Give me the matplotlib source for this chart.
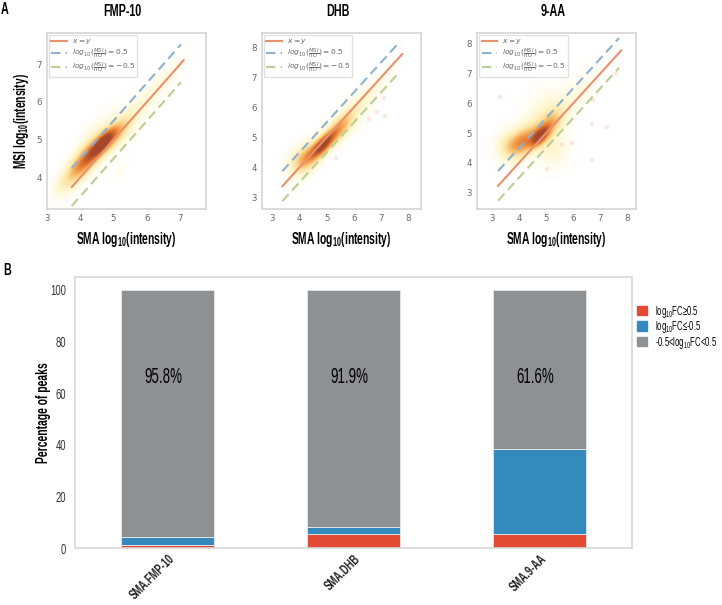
import os
import tempfile
import numpy as np
import matplotlib
matplotlib.use('Agg')
import matplotlib.pyplot as plt
from matplotlib import font_manager as fm
from matplotlib.colors import LinearSegmentedColormap
from matplotlib.font_manager import FontProperties
from matplotlib.patches import Patch
from fontTools.ttLib import TTFont

# Daten
panel_titles = ['FMP-10', 'DHB', '9-AA']
x_ticks = [[3, 4, 5, 6, 7], [3, 4, 5, 6, 7, 8], [3, 4, 5, 6, 7, 8]]
y_ticks = [[4, 5, 6, 7], [3, 4, 5, 6, 7, 8], [3, 4, 5, 6, 7, 8]]
x_ends = [(3.75, 7.1), (3.37, 7.78), (3.22, 7.78)]

# density blobs: x, y, sd along diagonal, sd across, weight
blobs_fmp = [(4.65, 4.9, 0.32, 0.12, 0.75), (4.25, 4.55, 0.45, 0.19, 0.58),
             (5.05, 5.15, 0.42, 0.18, 0.42), (3.9, 4.2, 0.40, 0.20, 0.26),
             (3.5, 3.8, 0.30, 0.18, 0.12), (5.7, 5.8, 0.70, 0.22, 0.11),
             (6.6, 6.65, 0.55, 0.15, 0.08), (5.2, 4.2, 0.22, 0.08, 0.06),
             (4.5, 5.1, 0.50, 0.22, 0.13)]
blobs_dhb = [(4.85, 4.75, 0.36, 0.15, 0.80), (4.35, 4.38, 0.45, 0.24, 0.50),
             (5.4, 5.25, 0.48, 0.21, 0.52), (3.95, 4.2, 0.36, 0.30, 0.17),
             (6.0, 5.9, 0.60, 0.25, 0.15), (6.8, 6.7, 0.55, 0.18, 0.08)]
blobs_9aa = [(4.75, 4.87, 0.30, 0.15, 0.72), (4.15, 4.72, 0.45, 0.28, 0.58),
             (3.6, 4.6, 0.35, 0.30, 0.24), (5.1, 5.25, 0.48, 0.24, 0.42),
             (5.0, 5.7, 0.60, 0.42, 0.15), (5.25, 4.45, 0.42, 0.38, 0.15),
             (6.2, 6.4, 0.65, 0.28, 0.09)]
all_blobs = [blobs_fmp, blobs_dhb, blobs_9aa]

stray_x = [[], [5.35, 6.55, 6.85, 7.15, 7.1], [3.3, 5.05, 5.6, 5.95, 6.7, 6.7, 7.25, 7.6, 6.75]]
stray_y = [[], [4.3, 5.6, 5.85, 5.7, 6.3], [6.2, 3.8, 4.6, 4.65, 5.3, 4.1, 5.2, 7.0, 6.1]]

categories = ['SMA.FMP-10', 'SMA.DHB', 'SMA.9-AA']
up = [1.0, 5.6, 5.5]
down = [3.2, 2.5, 32.9]
same = [95.8, 91.9, 61.6]
same_labels = ['95.8%', '91.9%', '61.6%']

legend_labels = ['log$_{10}$FC≥0.5', 'log$_{10}$FC≤-0.5', '-0.5<log$_{10}$FC<0.5']
bar_colors = ['#E24A33', '#348ABD', '#8E9194']

W, H = 722, 605


# no condensed family is installed, so squeeze Liberation Sans into a temporary one
def schmal_font(style, stretch=0.62):
    src = fm.findfont(FontProperties(family='Liberation Sans', weight=style))
    font = TTFont(src)
    glyf = font['glyf']
    for name in glyf.keys():
        g = glyf[name]
        if g.isComposite():
            for c in g.components:
                c.x = int(c.x * stretch)
        elif g.numberOfContours > 0:
            g.coordinates.scale((stretch, 1))
            g.coordinates.toInt()
            g.program.fromBytecode(b'')
        g.recalcBounds(glyf)
    for name, (adv, lsb) in font['hmtx'].metrics.items():
        font['hmtx'].metrics[name] = (int(adv * stretch), int(lsb * stretch))
    for tag in ['fpgm', 'prep', 'cvt ', 'hdmx', 'VDMX', 'LTSH', 'kern', 'GPOS']:
        if tag in font:
            del font[tag]
    for rec in font['name'].names:
        if rec.nameID in (1, 16):
            rec.string = 'Schmal'
        elif rec.nameID == 4:
            rec.string = 'Schmal ' + style
    path = os.path.join(tempfile.mkdtemp(), 'schmal_' + style + '.ttf')
    font.save(path)
    fm.fontManager.addfont(path)


schmal_font('regular')
schmal_font('bold')
plt.rcParams['font.family'] = ['Schmal', 'Liberation Sans', 'DejaVu Sans']
plt.rcParams['mathtext.fontset'] = 'custom'
plt.rcParams['mathtext.rm'] = 'Schmal'
plt.rcParams['mathtext.it'] = 'Schmal'
plt.rcParams['mathtext.bf'] = 'Schmal:bold'

cmap = LinearSegmentedColormap.from_list('dichte', ['#FFFFFF', '#FFF6CC', '#FDE3A0', '#F9B564',
                                                    '#EC8536', '#CC5F2A', '#A5482C'])


def make_axes(left, right, top, bottom):
    return fig.add_axes([left / W, 1 - bottom / H, (right - left) / W, (bottom - top) / H])


def density(ax, blobs, xlim, ylim):
    xs = np.linspace(xlim[0], xlim[1], 300)
    ys = np.linspace(ylim[0], ylim[1], 300)
    gx, gy = np.meshgrid(xs, ys)
    z = np.zeros_like(gx)
    for x0, y0, s_a, s_c, w in blobs:
        a = ((gx - x0) + (gy - y0)) / np.sqrt(2)
        c = ((gx - x0) - (gy - y0)) / np.sqrt(2)
        z += w * np.exp(-a ** 2 / (2 * s_a ** 2) - c ** 2 / (2 * s_c ** 2))
    ax.imshow(np.clip(z, 0, 1), origin='lower', extent=[*xlim, *ylim], aspect='auto',
              cmap=cmap, vmin=0, vmax=1, interpolation='bilinear')


fig = plt.figure(figsize=(W / 100, H / 100), dpi=100)

boxes = [(46.7, 206, 33, 209), (261.7, 421.3, 33, 209), (477, 636.3, 33, 209)]
xlims = [(3.0, 7.77), (2.61, 8.48), (2.44, 8.34)]
ylims = [(3.17, 7.82), (2.61, 8.48), (2.44, 8.37)]
dash = (4.5, 2.5)
xlabel = r'SMA log$_{\mathbf{10}}$(intensity)'
ylabel = r'MSI log$_{\mathbf{10}}$(intensity)'

for i in range(3):
    ax = make_axes(boxes[i][0], boxes[i][1], boxes[i][2], boxes[i][3])
    density(ax, all_blobs[i], xlims[i], ylims[i])
    ax.scatter(stray_x[i], stray_y[i], s=7, color='#F6C9B8', alpha=0.4, linewidths=0, marker='s')
    x0, x1 = x_ends[i]
    ax.plot([x0, x1], [x0, x1], color='#E8906F', lw=1.5, label='$x=y$')
    ax.plot([x0, x1 - 0.08], [x0 + 0.5, x1 + 0.42], color='#8FB1CF', lw=1.5, ls=(0, dash),
            label=r'$log_{10}(\frac{MSI}{ITO})=0.5$')
    ax.plot([x0, x1 - 0.08], [x0 - 0.5, x1 - 0.58], color='#B9CF94', lw=1.5, ls=(0, dash),
            label=r'$log_{10}(\frac{MSI}{ITO})=-0.5$')
    ax.set_xlim(xlims[i])
    ax.set_ylim(ylims[i])
    ax.set_xticks(x_ticks[i])
    ax.set_yticks(y_ticks[i])
    ax.tick_params(length=0, labelsize=6.2, labelcolor='#666666', pad=3.5,
                   labelfontfamily='DejaVu Sans')
    for s in ax.spines.values():
        s.set_color('#D4D4D4')
        s.set_linewidth(1.2)
    ax.set_xlabel(xlabel, fontsize=12, fontweight='bold', labelpad=5)
    if i == 0:
        ax.set_ylabel(ylabel, fontsize=12, fontweight='bold', labelpad=4)
    leg_font = FontProperties(family='DejaVu Sans', size=5.4, math_fontfamily='dejavusans')
    ax.legend(loc='upper left', prop=leg_font, frameon=True, edgecolor='#E2E2E2', framealpha=1,
              borderaxespad=0.3, labelcolor='#666666', handlelength=2.05, fancybox=False,
              labelspacing=0, borderpad=0.3, handletextpad=0.7)
    fig.text(((boxes[i][0] + boxes[i][1]) / 2 - 4) / W, 1 - 11 / H, panel_titles[i],
             ha='center', va='center', fontsize=12.5, fontweight='bold')

fig.text(1 / W, 1 - 9 / H, 'A', fontsize=12.5, fontweight='bold', va='center')
fig.text(3 / W, 1 - 270 / H, 'B', fontsize=12.5, fontweight='bold', va='center')

# Balken
ax = make_axes(74.7, 632, 277, 548)
pos = np.arange(3)
ax.bar(pos, up, 0.5, color=bar_colors[0], edgecolor='#E8E8E8', linewidth=0.6)
ax.bar(pos, down, 0.5, bottom=up, color=bar_colors[1], edgecolor='#E8E8E8', linewidth=0.6)
ax.bar(pos, same, 0.5, bottom=np.add(up, down), color=bar_colors[2], edgecolor='#E8E8E8', linewidth=0.6)
for p, t in zip(pos, same_labels):
    ax.text(p - 0.02, 66, t, ha='center', va='center', fontsize=15.5)
ax.set_xlim(-0.5, 2.5)
ax.set_ylim(0, 105)
ax.set_xticks(pos)
ax.set_xticklabels(categories, rotation=45, ha='right', rotation_mode='anchor', fontsize=12.5,
                   fontweight='bold')
ax.set_yticks([0, 20, 40, 60, 80, 100])
ax.tick_params(length=0, labelsize=11, labelcolor='#333333', pad=6)
ax.tick_params(axis='x', labelcolor='#222222', pad=3)
ax.set_ylabel('Percentage of peaks', fontsize=12, labelpad=-0.5, fontweight='bold')
for s in ax.spines.values():
    s.set_color('#D8D8D8')
    s.set_linewidth(1.2)
handles = [Patch(color=c, label=l) for c, l in zip(bar_colors, legend_labels)]
fig.legend(handles=handles, loc='upper left', bbox_to_anchor=(637 / W, 1 - 304 / H), frameon=False,
           fontsize=9, handlelength=0.8, handleheight=0.8, handletextpad=0.65, labelspacing=-0.05,
           borderaxespad=0, borderpad=0)

fig.savefig('out.png', dpi=100)
